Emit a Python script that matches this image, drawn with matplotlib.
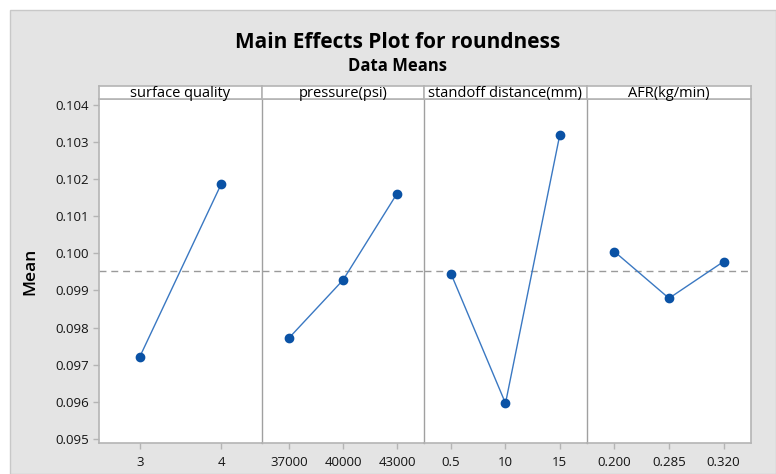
import matplotlib
matplotlib.use("Agg")
import matplotlib.pyplot as plt
from matplotlib.patches import Rectangle
import numpy as np

plt.rcParams['font.family'] = ['Open Sans', 'DejaVu Sans']

# ---- data ----
factors = ["surface quality", "pressure(psi)", "standoff distance(mm)", "AFR(kg/min)"]
levels_surface = ["3", "4"]
levels_pressure = ["37000", "40000", "43000"]
levels_standoff = ["0.5", "10", "15"]
levels_afr = ["0.200", "0.285", "0.320"]
means_surface = [0.09721, 0.10187]
means_pressure = [0.09772, 0.09928, 0.10161]
means_standoff = [0.09944, 0.09596, 0.10320]
means_afr = [0.10005, 0.09879, 0.09978]
yticks = [0.095, 0.096, 0.097, 0.098, 0.099, 0.100, 0.101, 0.102, 0.103, 0.104]

all_levels = [levels_surface, levels_pressure, levels_standoff, levels_afr]
all_means = [means_surface, means_pressure, means_standoff, means_afr]
grand_mean = float(np.mean(means_pressure))

W, H = 776, 474
fig = plt.figure(figsize=(W / 100, H / 100), dpi=100)
fig.patch.set_facecolor("white")
# grey background panel
fig.add_artist(Rectangle((10 / W, 0), 1 - 10 / W, 1 - 10 / H, transform=fig.transFigure,
                         facecolor="#e4e4e4", edgecolor="#c8c8c8", linewidth=1.0, zorder=0))

edges = [99, 262, 424, 587, 751]
top_px, bot_px, head_px = 99, 443, 86
ylo, yhi = 0.09489, 0.10416

line_col = "#3a78c2"
mark_col = "#0a52a5"
frame_col = "#b4b4b4"
div_col = "#a0a0a0"
txt_col = "#141414"

axes = []
for i in range(4):
    x0, x1 = edges[i], edges[i + 1]
    ax = fig.add_axes([x0 / W, (H - bot_px) / H, (x1 - x0) / W, (bot_px - top_px) / H])
    ax.set_facecolor("white")
    lv = all_levels[i]
    mv = all_means[i]
    xs = np.arange(1, len(lv) + 1)
    ax.axhline(grand_mean, color="#9a9a9a", lw=1.0, ls=(0, (5, 3.5)), zorder=1)
    ax.plot(xs, mv, color=line_col, lw=1.0, zorder=2)
    ax.plot(xs, mv, ls="none", marker="o", ms=6, color=mark_col, zorder=3)
    ax.set_xlim(0.5, len(lv) + 0.5)
    ax.set_ylim(ylo, yhi)
    ax.set_xticks(xs)
    ax.set_xticklabels(lv, fontsize=9.5, color=txt_col)
    ax.tick_params(axis="x", length=4, width=1, color=frame_col, pad=5)
    if i == 0:
        ax.set_yticks(yticks)
        ax.set_yticklabels([f"{v:.3f}" for v in yticks], fontsize=9.5, color=txt_col)
        ax.tick_params(axis="y", length=4, width=1, color=frame_col, pad=3)
        ax.set_ylabel("Mean", fontsize=12.5, labelpad=12, color="#000000", fontweight="semibold")
    else:
        ax.set_yticks([])
    for side, sp in ax.spines.items():
        sp.set_color(frame_col)
        sp.set_linewidth(1.2)
    if i > 0:
        ax.spines["left"].set_color(div_col)
        ax.spines["left"].set_linewidth(1.0)
    if i < 3:
        ax.spines["right"].set_visible(False)
    axes.append(ax)

    # header strip
    hx = fig.add_axes([x0 / W, (H - top_px) / H, (x1 - x0) / W, (top_px - head_px) / H])
    hx.set_facecolor("white")
    hx.set_xticks([])
    hx.set_yticks([])
    for sp in hx.spines.values():
        sp.set_color(frame_col)
        sp.set_linewidth(1.2)
    hx.text(0.5, 0.42, factors[i], ha="center", va="center", fontsize=10.5,
            transform=hx.transAxes, color="#000000")

fig.text(398 / W, 1 - 43 / H, "Main Effects Plot for roundness", ha="center", va="center",
         fontsize=15, fontweight="bold", color="#000000")
fig.text(398 / W, 1 - 66 / H, "Data Means", ha="center", va="center",
         fontsize=12, fontweight="bold", color="#000000")

fig.savefig("out.png", dpi=100)
